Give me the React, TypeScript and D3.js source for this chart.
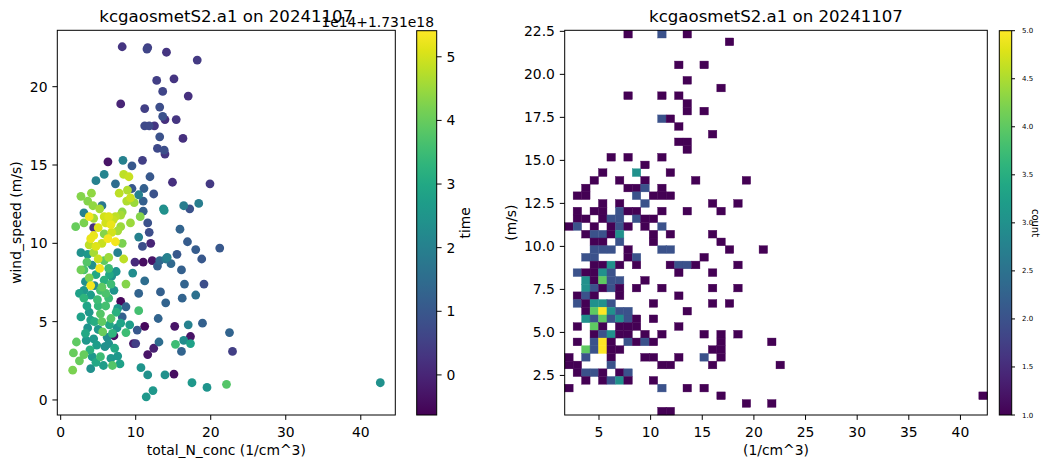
import React from "react";
import * as d3 from "d3";

const TITLE = "kcgaosmetS2.a1 on 20241107";

// [total_N_conc (1/cm^3), wind_speed (m/s), time (x1e14 + 1.731e18)]
const samples: [number, number, number][] = [
  [8.2, 22.55, 0.3], [11.6, 22.5, 0.5], [11.5, 22.4, 0.6], [14.1, 22.2, 0.3], [18.2, 21.7, 0.4],
  [12.8, 20.4, 0.5], [15.1, 20.5, 0.3], [13.6, 19.7, 0.6], [17.0, 19.4, 0.2], [8.0, 18.9, 0.0],
  [11.2, 18.6, 0.5], [13.2, 18.7, 0.8], [13.6, 18.1, 0.9], [13.9, 17.9, 0.2], [15.4, 17.9, 0.3],
  [11.2, 17.5, 0.7], [11.8, 17.5, 0.7], [12.5, 17.5, 0.3], [13.2, 16.8, 0.9], [16.3, 16.7, 0.2],
  [12.9, 16.06, 0.7], [13.8, 15.95, 0.8], [13.9, 15.7, 0.3], [6.3, 15.2, -0.3], [8.3, 15.3, 2.0],
  [9.5, 14.95, 1.0], [10.9, 15.3, 0.5], [5.8, 14.4, 2.1], [4.7, 14.0, 2.0], [7.3, 13.8, 1.5],
  [8.4, 14.4, 4.8], [9.1, 14.25, 4.9], [11.9, 14.25, 1.0], [14.9, 13.9, 0.2], [19.9, 13.8, 0.4],
  [2.7, 13.0, 4.3], [4.1, 13.2, 4.4], [3.6, 12.7, 4.3], [7.8, 13.2, 4.8], [8.9, 13.4, 4.7],
  [9.5, 13.5, 1.0], [9.3, 12.9, 4.9], [8.8, 12.7, 4.7], [9.8, 12.6, 4.5], [10.4, 13.1, 2.0],
  [11.1, 13.5, 1.2], [11.0, 12.7, 1.2], [12.4, 13.15, 0.9], [5.5, 12.4, 1.8], [13.7, 12.2, 2.3],
  [16.4, 12.4, 1.9], [17.2, 12.2, 0.9], [18.4, 12.55, 1.9], [3.1, 11.95, 2.0],
  [3.8, 11.7, 5.3], [4.4, 11.6, 4.6], [5.8, 11.7, 5.0], [6.4, 11.7, 5.1], [7.3, 11.7, 4.8],
  [8.0, 11.8, 4.6], [9.3, 11.3, 4.5], [10.6, 11.7, 4.3], [11.0, 12.05, 1.2], [2.0, 11.06, 4.0],
  [3.1, 11.3, 4.2], [4.4, 11.0, 0.2], [6.7, 11.2, 5.2], [6.8, 10.7, 5.0], [8.0, 11.06, 4.5],
  [4.4, 10.5, 5.2], [5.8, 10.6, 4.3], [7.3, 10.1, 5.3], [8.2, 10.0, 4.2], [10.4, 10.4, 2.0],
  [11.6, 11.3, 0.9], [11.8, 10.7, 0.8], [13.8, 12.1, 2.4], [15.9, 10.9, 1.3], [16.9, 10.1, 1.1],
  [18.0, 9.6, 1.1], [21.2, 9.7, 1.0], [18.8, 9.0, 1.0], [15.5, 9.3, 1.0], [4.7, 9.8, 5.1],
  [4.4, 9.4, 4.6], [3.6, 9.3, 2.6], [6.4, 9.1, 4.5], [7.6, 9.4, 2.0], [8.4, 9.0, 4.8],
  [10.9, 9.8, 0.8], [12.0, 10.0, 0.0], [12.2, 8.9, -0.3], [12.9, 8.55, 1.2], [13.2, 8.9, 1.4],
  [14.0, 9.0, 1.8], [14.2, 9.1, 2.0], [14.7, 8.7, 1.4], [16.1, 8.3, 1.2], [3.1, 8.3, 3.7],
  [2.7, 8.3, 4.1], [5.2, 8.4, 5.3], [6.4, 8.4, 3.5], [4.7, 8.0, 3.0], [3.8, 7.8, 4.2],
  [5.8, 7.65, 3.2], [6.7, 7.4, 3.5], [7.4, 8.2, 2.5], [8.7, 7.4, 4.3], [9.6, 8.1, 2.3],
  [11.2, 7.6, 1.5], [4.0, 7.3, 5.3], [3.3, 7.55, 2.4], [5.3, 7.0, 3.6], [7.1, 7.0, 2.5],
  [3.1, 7.0, 2.6], [13.3, 6.9, 1.2], [16.5, 7.4, 1.3], [19.1, 7.4, 0.8], [10.4, 6.8, 1.3],
  [16.2, 6.5, 1.3], [18.0, 6.7, 1.6], [14.0, 6.2, 1.3], [3.1, 6.5, 3.3], [4.9, 6.4, 3.5],
  [6.4, 6.5, 3.5], [8.0, 6.3, -0.5], [8.7, 5.95, 1.3], [7.6, 5.85, 2.6], [10.4, 5.7, 3.6],
  [2.7, 5.3, 2.8], [3.8, 5.6, 2.6], [5.3, 5.5, 3.8], [6.7, 5.2, 3.8], [4.0, 5.1, 2.8],
  [8.2, 5.3, 1.2], [8.0, 4.9, 2.9], [9.2, 4.8, 2.7], [13.0, 5.2, 1.3], [17.0, 4.8, 2.0],
  [18.9, 4.9, 1.2], [11.2, 4.7, -0.5], [15.2, 4.7, -0.3], [10.2, 4.46, 1.0], [3.3, 4.25, 3.0],
  [5.6, 4.35, 4.0], [6.9, 4.25, 3.3], [4.4, 3.9, 2.6], [6.2, 4.0, 2.3], [8.7, 4.3, 3.5],
  [2.1, 3.7, 3.9], [3.4, 3.8, 2.6], [5.9, 3.4, 2.4], [7.1, 4.1, -0.4], [9.7, 3.6, -0.2],
  [10.0, 3.6, 0.5], [12.4, 3.3, -0.1], [13.1, 3.7, 1.5], [15.3, 3.55, 3.5], [16.4, 3.8, 2.3],
  [17.3, 3.6, 2.8], [16.1, 3.1, 1.3], [17.3, 4.05, -0.3], [22.5, 4.3, 1.3], [22.9, 3.1, 0.5],
  [11.6, 2.9, -0.3], [1.7, 3.0, 4.0], [3.1, 2.9, 4.0], [4.2, 2.76, 2.6], [5.3, 2.76, 3.5],
  [6.7, 2.65, 2.6], [7.6, 2.8, 2.6], [7.9, 2.3, 2.8], [6.9, 2.2, 3.8], [4.0, 2.0, 2.4],
  [2.5, 2.5, 4.0], [1.6, 1.9, 4.2], [10.7, 2.06, 2.5], [11.6, 1.6, 2.4], [13.9, 1.6, 2.4],
  [15.1, 1.65, -0.4], [17.5, 1.1, 2.6], [19.5, 0.8, 2.5], [22.1, 1.0, 3.8], [12.3, 0.6, 2.6],
  [11.4, 0.2, 2.6], [42.6, 1.1, 2.4],
  [3.5, 8.8, 3.8], [4.2, 8.6, 2.4], [5.0, 9.0, 4.9], [5.8, 8.9, 3.9], [6.5, 8.0, 3.0],
  [4.5, 7.3, 2.2], [5.5, 7.2, 3.9], [6.0, 6.8, 3.7], [4.0, 6.7, 2.7], [5.0, 6.0, 3.4],
  [6.0, 6.0, 3.6], [3.5, 6.0, 2.9], [4.5, 5.0, 3.1], [5.5, 5.0, 3.9], [6.5, 4.8, 3.0],
  [3.6, 4.6, 2.5], [5.0, 4.5, 2.6], [4.8, 3.5, 2.7], [6.4, 3.6, 2.4], [7.2, 3.3, 3.0],
  [5.7, 2.2, 2.7], [4.7, 2.4, 3.0], [3.9, 3.2, 3.2], [7.5, 4.6, 2.5], [7.4, 5.6, 3.2],
  [6.8, 7.9, 2.4], [2.5, 6.8, 2.8], [2.7, 9.4, 2.4],
  [4.0, 10.3, 5.2], [5.0, 11.0, 5.1], [5.5, 10.0, 4.9], [6.0, 11.3, 5.0], [7.0, 11.5, 4.9],
  [6.3, 10.3, 5.3], [7.6, 10.8, 4.6], [8.2, 12.0, 4.4], [5.2, 12.2, 4.6], [4.3, 12.4, 4.4],
  [3.8, 9.9, 4.8], [9.9, 8.8, 0.1], [11.0, 8.8, -0.4],
];

const concTicks = [0, 10, 20, 30, 40];
const windTicks = [0, 5, 10, 15, 20];
const timeTicks = [0, 1, 2, 3, 4, 5];
const timeExtent: [number, number] = [-0.63, 5.41];

const histConcTicks = [5, 10, 15, 20, 25, 30, 35, 40];
const histWindTicks = [2.5, 5, 7.5, 10, 12.5, 15, 17.5, 20, 22.5];
const countTicks = [1, 1.5, 2, 2.5, 3, 3.5, 4, 4.5, 5];
const countExtent: [number, number] = [1, 5];
const histBins = 50;
const histConcExtent: [number, number] = [1.68, 42.6];
const histWindExtent: [number, number] = [0.2, 22.56];

// [conc bin, wind bin (from bottom), count]
const histCells: [number, number, number][] = [
  [7, 49, 1], [11, 49, 2], [14, 49, 1],
  [19, 48, 1],
  [13, 45, 1], [16, 45, 1],
  [14, 43, 1],
  [18, 42, 1],
  [7, 41, 1], [11, 41, 1], [13, 41, 1],
  [14, 40, 1],
  [14, 39, 1], [16, 39, 1],
  [11, 38, 2], [12, 38, 1],
  [13, 37, 1],
  [17, 36, 1],
  [13, 35, 1], [14, 35, 1],
  [14, 34, 1],
  [5, 33, 1], [7, 33, 1], [11, 33, 1],
  [9, 32, 1],
  [4, 31, 1], [8, 31, 3], [12, 31, 1],
  [3, 30, 1], [6, 30, 1], [9, 30, 1], [15, 30, 1], [21, 30, 1],
  [2, 29, 1], [7, 29, 1], [8, 29, 1], [9, 29, 2], [11, 29, 1],
  [1, 28, 1], [2, 28, 1], [8, 28, 2], [10, 28, 1], [11, 28, 1], [12, 28, 1],
  [4, 27, 1], [6, 27, 1], [9, 27, 2], [17, 27, 1], [20, 27, 1],
  [1, 26, 1], [3, 26, 1], [4, 26, 1], [6, 26, 2], [7, 26, 1], [8, 26, 1], [11, 26, 1], [14, 26, 1], [18, 26, 1],
  [1, 25, 1], [2, 25, 1], [4, 25, 1], [5, 25, 2], [6, 25, 2], [8, 25, 2], [9, 25, 1], [10, 25, 1],
  [0, 24, 1], [1, 24, 2], [3, 24, 1], [5, 24, 1], [6, 24, 2], [7, 24, 1], [9, 24, 1], [11, 24, 2],
  [2, 23, 1], [3, 23, 2], [4, 23, 2], [5, 23, 1], [6, 23, 3], [10, 23, 1], [12, 23, 1], [17, 23, 1],
  [3, 22, 1], [4, 22, 1], [6, 22, 2], [10, 22, 1], [18, 22, 1],
  [3, 21, 2], [4, 21, 2], [5, 21, 2], [7, 21, 1], [11, 21, 2], [12, 21, 2], [19, 21, 1], [23, 21, 1],
  [2, 20, 2], [3, 20, 2], [7, 20, 1], [8, 20, 2], [16, 20, 1],
  [3, 19, 1], [4, 19, 1], [5, 19, 3], [6, 19, 1], [8, 19, 1], [12, 19, 1], [13, 19, 2], [14, 19, 2], [15, 19, 1], [20, 19, 1],
  [1, 18, 2], [2, 18, 1], [3, 18, 1], [4, 18, 3], [5, 18, 2], [13, 18, 1], [17, 18, 1],
  [2, 17, 3], [3, 17, 1], [4, 17, 4], [5, 17, 2], [6, 17, 2], [9, 17, 1],
  [2, 16, 3], [3, 16, 2], [4, 16, 1], [5, 16, 2], [6, 16, 1], [8, 16, 1], [11, 16, 1], [17, 16, 1], [20, 16, 1],
  [1, 15, 1], [2, 15, 2], [3, 15, 1], [6, 15, 1], [13, 15, 1],
  [1, 14, 2], [2, 14, 1], [3, 14, 3], [4, 14, 3], [5, 14, 2], [10, 14, 1], [17, 14, 1], [19, 14, 1],
  [2, 13, 1], [3, 13, 4], [4, 13, 5], [5, 13, 3], [6, 13, 2], [7, 13, 2], [14, 13, 1],
  [2, 12, 3], [3, 12, 2], [4, 12, 4], [5, 12, 2], [6, 12, 3], [7, 12, 2], [8, 12, 1], [10, 12, 1],
  [1, 11, 1], [3, 11, 4], [4, 11, 1], [6, 11, 1], [7, 11, 1], [8, 11, 1], [13, 11, 1],
  [3, 10, 1], [4, 10, 2], [5, 10, 3], [6, 10, 1], [7, 10, 1], [9, 10, 1], [11, 10, 1], [16, 10, 1], [18, 10, 1], [20, 10, 1],
  [1, 9, 1], [3, 9, 2], [4, 9, 5], [5, 9, 1], [7, 9, 2], [8, 9, 1], [9, 9, 2], [10, 9, 1], [18, 9, 1], [24, 9, 1],
  [2, 8, 4], [3, 8, 2], [4, 8, 5], [5, 8, 1], [6, 8, 1], [17, 8, 1], [18, 8, 1],
  [0, 7, 1], [2, 7, 2], [5, 7, 1], [9, 7, 1], [10, 7, 1], [13, 7, 1], [16, 7, 2], [18, 7, 1],
  [0, 6, 1], [1, 6, 1], [5, 6, 2], [11, 6, 1], [12, 6, 1], [17, 6, 1], [25, 6, 1],
  [1, 5, 1], [2, 5, 2], [3, 5, 2], [4, 5, 1], [6, 5, 1], [7, 5, 2],
  [2, 4, 1], [4, 4, 1], [5, 4, 2], [6, 4, 3], [7, 4, 1], [10, 4, 1],
  [0, 3, 1], [11, 3, 2], [14, 3, 1], [16, 3, 1],
  [18, 2, 1], [49, 2, 1],
  [21, 1, 1], [24, 1, 1],
  [11, 0, 1], [12, 0, 1],
];

const FONT = "DejaVu Sans, sans-serif";
const TICK = 4.9;

// layout
const L = { x0: 57.3, x1: 395.3, y0: 30.3, y1: 415 };
const LCB = { x0: 416.7, x1: 436.7, y0: 30.7, y1: 415 };
const R = { x0: 564.7, x1: 987.3, y0: 30.3, y1: 415 };
const RCB = { x0: 999.3, x1: 1011.7, y0: 30.7, y1: 415 };

function Gradient({ id }: { id: string }) {
  const stops = d3.range(0, 1.0001, 0.05);
  return (
    <linearGradient id={id} x1="0" y1="1" x2="0" y2="0">
      {stops.map((s) => (
        <stop key={s} offset={s} stopColor={d3.interpolateViridis(s)} />
      ))}
    </linearGradient>
  );
}

export default function App() {
  const sx = d3.scaleLinear().domain([-0.45, 44.6]).range([L.x0, L.x1]);
  const sy = d3.scaleLinear().domain([-0.96, 23.6]).range([L.y1, L.y0]);
  const tColor = d3.scaleSequential(d3.interpolateViridis).domain(timeExtent);
  const tScale = d3.scaleLinear().domain(timeExtent).range([LCB.y1, LCB.y0]);

  const hx = d3.scaleLinear().domain(histConcExtent).range([R.x0, R.x1]);
  const hy = d3.scaleLinear().domain(histWindExtent).range([R.y1, R.y0]);
  const cColor = d3.scaleSequential(d3.interpolateViridis).domain(countExtent);
  const cScale = d3.scaleLinear().domain(countExtent).range([RCB.y1, RCB.y0]);
  const bw = (histConcExtent[1] - histConcExtent[0]) / histBins;
  const bh = (histWindExtent[1] - histWindExtent[0]) / histBins;

  const sorted = [...samples].sort((a, b) => a[2] - b[2]);

  return (
    <svg
      width={1048}
      height={468}
      style={{ position: "absolute", left: 0, top: 0, background: "#fff" }}
      fontFamily={FONT}
    >
      <defs>
        <Gradient id="vir" />
        <clipPath id="clipL">
          <rect x={L.x0} y={L.y0} width={L.x1 - L.x0} height={L.y1 - L.y0} />
        </clipPath>
      </defs>
      <rect x={0} y={0} width={1048} height={468} fill="#fff" />

      {/* ---------- Left scatter ---------- */}
      <g clipPath="url(#clipL)">
        {sorted.map((d, i) => (
          <circle key={i} cx={sx(d[0])} cy={sy(d[1])} r={4.4} fill={tColor(d[2])} />
        ))}
      </g>
      <rect x={L.x0} y={L.y0} width={L.x1 - L.x0} height={L.y1 - L.y0} fill="none" stroke="#000" strokeWidth={1} />
      {concTicks.map((t) => (
        <g key={t}>
          <line x1={sx(t)} x2={sx(t)} y1={L.y1} y2={L.y1 + TICK} stroke="#000" />
          <text x={sx(t)} y={437} fontSize={13.9} textAnchor="middle" fill="#000">{t}</text>
        </g>
      ))}
      {windTicks.map((t) => (
        <g key={t}>
          <line x1={L.x0 - TICK} x2={L.x0} y1={sy(t)} y2={sy(t)} stroke="#000" />
          <text x={L.x0 - 9.8} y={sy(t) + 5} fontSize={13.9} textAnchor="end" fill="#000">{t}</text>
        </g>
      ))}
      <text x={(L.x0 + L.x1) / 2} y={22} fontSize={16.6} textAnchor="middle">{TITLE}</text>
      <text x={(L.x0 + L.x1) / 2} y={455} fontSize={13.9} textAnchor="middle">total_N_conc (1/cm^3)</text>
      <text transform={`translate(21,${(L.y0 + L.y1) / 2}) rotate(-90)`} fontSize={13.9} textAnchor="middle">wind_speed (m/s)</text>

      {/* time colorbar */}
      <rect x={LCB.x0} y={LCB.y0} width={LCB.x1 - LCB.x0} height={LCB.y1 - LCB.y0} fill="url(#vir)" stroke="#000" strokeWidth={1} />
      {timeTicks.map((t) => (
        <g key={t}>
          <line x1={LCB.x1} x2={LCB.x1 + TICK} y1={tScale(t)} y2={tScale(t)} stroke="#000" />
          <text x={LCB.x1 + 9.8} y={tScale(t) + 5} fontSize={13.9} fill="#000">{t}</text>
        </g>
      ))}
      <text x={434} y={26.5} fontSize={13.9} textAnchor="end">1e14+1.731e18</text>
      <text transform={`translate(470,${(LCB.y0 + LCB.y1) / 2}) rotate(-90)`} fontSize={13.9} textAnchor="middle">time</text>

      {/* ---------- Right 2D histogram ---------- */}
      {histCells.map(([c, r, n], i) => {
        const x0 = hx(histConcExtent[0] + c * bw);
        const x1 = hx(histConcExtent[0] + (c + 1) * bw);
        const y0 = hy(histWindExtent[0] + (r + 1) * bh);
        const y1 = hy(histWindExtent[0] + r * bh);
        return (
          <rect key={i} x={x0} y={y0} width={x1 - x0} height={y1 - y0} fill={cColor(n)} stroke={cColor(n)} strokeWidth={0.4} />
        );
      })}
      <rect x={R.x0} y={R.y0} width={R.x1 - R.x0} height={R.y1 - R.y0} fill="none" stroke="#000" strokeWidth={1} />
      {histConcTicks.map((t) => (
        <g key={t}>
          <line x1={hx(t)} x2={hx(t)} y1={R.y1} y2={R.y1 + TICK} stroke="#000" />
          <text x={hx(t)} y={437} fontSize={13.9} textAnchor="middle" fill="#000">{t}</text>
        </g>
      ))}
      {histWindTicks.map((t) => (
        <g key={t}>
          <line x1={R.x0 - TICK} x2={R.x0} y1={hy(t)} y2={hy(t)} stroke="#000" />
          <text x={R.x0 - 9.8} y={hy(t) + 5} fontSize={13.9} textAnchor="end" fill="#000">{t.toFixed(1)}</text>
        </g>
      ))}
      <text x={(R.x0 + R.x1) / 2} y={22} fontSize={16.6} textAnchor="middle">{TITLE}</text>
      <text x={(R.x0 + R.x1) / 2} y={455} fontSize={13.9} textAnchor="middle">(1/cm^3)</text>
      <text transform={`translate(516,${(R.y0 + R.y1) / 2}) rotate(-90)`} fontSize={13.9} textAnchor="middle">(m/s)</text>

      {/* count colorbar */}
      <rect x={RCB.x0} y={RCB.y0} width={RCB.x1 - RCB.x0} height={RCB.y1 - RCB.y0} fill="url(#vir)" stroke="#000" strokeWidth={1} />
      {countTicks.map((t) => (
        <g key={t}>
          <line x1={RCB.x1} x2={RCB.x1 + 3.3} y1={cScale(t)} y2={cScale(t)} stroke="#000" />
          <text x={1022} y={cScale(t) + 2.5} fontSize={7} fill="#000">{t.toFixed(1)}</text>
        </g>
      ))}
      <text transform={`translate(1032,223) rotate(90)`} fontSize={10} textAnchor="middle">count</text>
    </svg>
  );
}
